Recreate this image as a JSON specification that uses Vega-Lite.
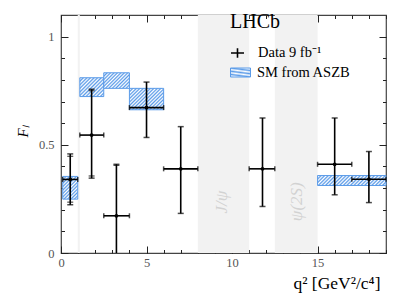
{
  "$schema": "https://vega.github.io/schema/vega-lite/v6.json",
  "width": 325,
  "height": 238,
  "autosize": "none",
  "padding": {"left": 61, "top": 15, "right": 21, "bottom": 52},
  "background": "white",
  "config": {
    "view": {"stroke": "#444", "strokeWidth": 1.2},
    "axis": {"grid": false, "domain": false, "labelFont": "Liberation Serif", "labelFontSize": 12.5, "labelColor": "#555", "titleFont": "Liberation Serif", "titleFontWeight": "normal", "titleColor": "black", "labelOverlap": false, "labelFlush": false}
  },
  "title": {"text": "LHCb", "anchor": "start", "frame": "group", "offset": 0, "dx": 169, "dy": 46, "baseline": "alphabetic", "font": "Liberation Serif", "fontSize": 20, "fontWeight": "normal", "color": "black"},
  "datasets": {
    "bands": [{"lo": 0.98, "hi": 1.1}, {"lo": 8, "hi": 11}, {"lo": 12.5, "hi": 15}],
    "sm": [
      {"lo": 0.1, "hi": 0.98, "Flo": 0.249, "Fhi": 0.354},
      {"lo": 1.1, "hi": 2.5, "Flo": 0.723, "Fhi": 0.81},
      {"lo": 2.5, "hi": 4.0, "Flo": 0.761, "Fhi": 0.833},
      {"lo": 4.0, "hi": 6.0, "Flo": 0.662, "Fhi": 0.761},
      {"lo": 15.0, "hi": 19.0, "Flo": 0.312, "Fhi": 0.358}
    ],
    "data": [
      {"lo": 0.1, "hi": 0.98, "xc": 0.54, "F": 0.34, "Flo": 0.223, "Fhi": 0.458, "Flo2": 0.235, "Fhi2": 0.447},
      {"lo": 1.1, "hi": 2.5, "xc": 1.79, "F": 0.545, "Flo": 0.346, "Fhi": 0.757, "Flo2": 0.356, "Fhi2": 0.75},
      {"lo": 2.5, "hi": 4.0, "xc": 3.24, "F": 0.172, "Flo": -0.05, "Fhi": 0.41, "Fhi2": 0.405},
      {"lo": 4.0, "hi": 6.0, "xc": 5.0, "F": 0.672, "Flo": 0.534, "Fhi": 0.79},
      {"lo": 6.0, "hi": 8.0, "xc": 7.0, "F": 0.389, "Flo": 0.183, "Fhi": 0.584},
      {"lo": 11.0, "hi": 12.5, "xc": 11.78, "F": 0.389, "Flo": 0.215, "Fhi": 0.624},
      {"lo": 15.0, "hi": 17.0, "xc": 16.0, "F": 0.41, "Flo": 0.269, "Fhi": 0.624},
      {"lo": 17.0, "hi": 19.0, "xc": 18.0, "F": 0.341, "Flo": 0.233, "Fhi": 0.469}
    ],
    "labels": [{"label": "J/ψ", "q2": 9.39, "F": 0.235}, {"label": "ψ(2S)", "q2": 13.78, "F": 0.237}]
  },
  "layer": [
    {
      "data": {"name": "bands"},
      "mark": {"type": "rect", "color": "#f2f2f2"},
      "encoding": {
        "x": {"field": "lo", "type": "quantitative", "scale": {"domain": [0, 19], "nice": false, "zero": false}, "axis": null},
        "x2": {"field": "hi"}
      }
    },
    {
      "data": {"name": "labels"},
      "mark": {"type": "text", "angle": 270, "font": "Liberation Serif", "fontStyle": "italic", "fontSize": 17, "color": "#d2d2d2"},
      "encoding": {
        "x": {"field": "q2", "type": "quantitative",
          "axis": {"orient": "bottom", "values": [0, 5, 10, 15], "ticks": false, "tickSize": 0, "domain": false, "labelPadding": 3, "title": "q² [GeV²/c⁴]", "titleFontSize": 17.5, "titleAlign": "right", "titleAnchor": "end", "titleX": 319, "titleY": 35, "titleBaseline": "alphabetic"}},
        "y": {"field": "F", "type": "quantitative", "scale": {"domain": [0, 1.1], "nice": false, "zero": false},
          "axis": {"orient": "left", "values": [0, 0.5, 1], "labelExpr": "datum.value === 0 ? '0' : datum.value === 1 ? '1' : '0.5'", "ticks": false, "tickSize": 0, "domain": false, "labelPadding": 7, "title": "Fₗ", "titleFontSize": 15, "titleFontStyle": "italic", "titleAngle": 270, "titleAlign": "center", "titleBaseline": "alphabetic", "titleX": -34, "titleY": 116}},
        "text": {"field": "label"}
      }
    },
    {
      "data": {"name": "sm"},
      "mark": {"type": "rect", "strokeWidth": 1},
      "encoding": {
        "x": {"field": "lo", "type": "quantitative", "scale": {"domain": [0, 19], "nice": false, "zero": false},
          "axis": {"orient": "bottom", "values": [0, 5, 10, 15], "labels": true, "labelExpr": "''", "labelPadding": 0, "title": null, "domain": false, "ticks": true, "tickColor": "#222", "tickWidth": 1, "tickOpacity": 1, "tickSize": 7, "offset": -7}},
        "x2": {"field": "hi"},
        "y": {"field": "Flo", "type": "quantitative", "scale": {"domain": [0, 1.1], "nice": false, "zero": false},
          "axis": {"orient": "left", "values": [0, 0.5, 1], "labels": true, "labelExpr": "''", "labelPadding": 0, "title": null, "domain": false, "ticks": true, "tickColor": "#222", "tickWidth": 1, "tickOpacity": 1, "tickSize": 7, "offset": -7}},
        "y2": {"field": "Fhi"},
        "stroke": {"datum": "SM from ASZB", "type": "nominal", "scale": {"domain": ["SM from ASZB"], "range": ["#5b9be8"]},
          "legend": {"orient": "none", "legendX": 169, "legendY": 47, "title": null, "symbolType": "M-1,-0.45H1V0.45H-1Z", "symbolSize": 400, "symbolStrokeWidth": 1, "labelFont": "Liberation Serif", "labelFontSize": 14.5, "labelColor": "black", "padding": 0, "labelOffset": 6,
            "encode": {"symbols": {"update": {
              "fill": [{"test": "datum.value === 'SM from ASZB'", "value": {"gradient": "linear", "x1": 0, "y1": 0, "x2": 1.206, "y2": 0.543, "stops": [{"offset":0,"color":"#5b9be8"},{"offset":0.0625,"color":"#ffffff"},{"offset":0.125,"color":"#5b9be8"},{"offset":0.1875,"color":"#ffffff"},{"offset":0.25,"color":"#5b9be8"},{"offset":0.3125,"color":"#ffffff"},{"offset":0.375,"color":"#5b9be8"},{"offset":0.4375,"color":"#ffffff"},{"offset":0.5,"color":"#5b9be8"},{"offset":0.5625,"color":"#ffffff"},{"offset":0.625,"color":"#5b9be8"},{"offset":0.6875,"color":"#ffffff"},{"offset":0.75,"color":"#5b9be8"},{"offset":0.8125,"color":"#ffffff"},{"offset":0.875,"color":"#5b9be8"},{"offset":0.9375,"color":"#ffffff"},{"offset":1,"color":"#5b9be8"}]}}, {"value": "transparent"}],
              "strokeWidth": {"value": 1},
              "size": {"value": 400}
            }}}}
        },
        "fill": {
          "condition": [
            {"test": "datum.lo === 0.1", "value": {"gradient": "linear", "x1": 0, "y1": 0, "x2": 0.764, "y2": 1.156, "stops": [{"offset":0,"color":"#5b9be8"},{"offset":0.0455,"color":"#ffffff"},{"offset":0.0909,"color":"#5b9be8"},{"offset":0.1364,"color":"#ffffff"},{"offset":0.1818,"color":"#5b9be8"},{"offset":0.2273,"color":"#ffffff"},{"offset":0.2727,"color":"#5b9be8"},{"offset":0.3182,"color":"#ffffff"},{"offset":0.3636,"color":"#5b9be8"},{"offset":0.4091,"color":"#ffffff"},{"offset":0.4545,"color":"#5b9be8"},{"offset":0.5,"color":"#ffffff"},{"offset":0.5455,"color":"#5b9be8"},{"offset":0.5909,"color":"#ffffff"},{"offset":0.6364,"color":"#5b9be8"},{"offset":0.6818,"color":"#ffffff"},{"offset":0.7273,"color":"#5b9be8"},{"offset":0.7727,"color":"#ffffff"},{"offset":0.8182,"color":"#5b9be8"},{"offset":0.8636,"color":"#ffffff"},{"offset":0.9091,"color":"#5b9be8"},{"offset":0.9545,"color":"#ffffff"},{"offset":1,"color":"#5b9be8"}]}},
            {"test": "datum.lo === 1.1", "value": {"gradient": "linear", "x1": 0, "y1": 0, "x2": 1.104, "y2": 0.868, "stops": [{"offset":0,"color":"#5b9be8"},{"offset":0.0417,"color":"#ffffff"},{"offset":0.0833,"color":"#5b9be8"},{"offset":0.125,"color":"#ffffff"},{"offset":0.1667,"color":"#5b9be8"},{"offset":0.2083,"color":"#ffffff"},{"offset":0.25,"color":"#5b9be8"},{"offset":0.2917,"color":"#ffffff"},{"offset":0.3333,"color":"#5b9be8"},{"offset":0.375,"color":"#ffffff"},{"offset":0.4167,"color":"#5b9be8"},{"offset":0.4583,"color":"#ffffff"},{"offset":0.5,"color":"#5b9be8"},{"offset":0.5417,"color":"#ffffff"},{"offset":0.5833,"color":"#5b9be8"},{"offset":0.625,"color":"#ffffff"},{"offset":0.6667,"color":"#5b9be8"},{"offset":0.7083,"color":"#ffffff"},{"offset":0.75,"color":"#5b9be8"},{"offset":0.7917,"color":"#ffffff"},{"offset":0.8333,"color":"#5b9be8"},{"offset":0.875,"color":"#ffffff"},{"offset":0.9167,"color":"#5b9be8"},{"offset":0.9583,"color":"#ffffff"},{"offset":1,"color":"#5b9be8"}]}},
            {"test": "datum.lo === 2.5", "value": {"gradient": "linear", "x1": 0, "y1": 0, "x2": 1.174, "y2": 0.713, "stops": [{"offset":0,"color":"#5b9be8"},{"offset":0.0417,"color":"#ffffff"},{"offset":0.0833,"color":"#5b9be8"},{"offset":0.125,"color":"#ffffff"},{"offset":0.1667,"color":"#5b9be8"},{"offset":0.2083,"color":"#ffffff"},{"offset":0.25,"color":"#5b9be8"},{"offset":0.2917,"color":"#ffffff"},{"offset":0.3333,"color":"#5b9be8"},{"offset":0.375,"color":"#ffffff"},{"offset":0.4167,"color":"#5b9be8"},{"offset":0.4583,"color":"#ffffff"},{"offset":0.5,"color":"#5b9be8"},{"offset":0.5417,"color":"#ffffff"},{"offset":0.5833,"color":"#5b9be8"},{"offset":0.625,"color":"#ffffff"},{"offset":0.6667,"color":"#5b9be8"},{"offset":0.7083,"color":"#ffffff"},{"offset":0.75,"color":"#5b9be8"},{"offset":0.7917,"color":"#ffffff"},{"offset":0.8333,"color":"#5b9be8"},{"offset":0.875,"color":"#ffffff"},{"offset":0.9167,"color":"#5b9be8"},{"offset":0.9583,"color":"#ffffff"},{"offset":1,"color":"#5b9be8"}]}},
            {"test": "datum.lo === 4", "value": {"gradient": "linear", "x1": 0, "y1": 0, "x2": 1.165, "y2": 0.739, "stops": [{"offset":0,"color":"#5b9be8"},{"offset":0.03125,"color":"#ffffff"},{"offset":0.0625,"color":"#5b9be8"},{"offset":0.09375,"color":"#ffffff"},{"offset":0.125,"color":"#5b9be8"},{"offset":0.15625,"color":"#ffffff"},{"offset":0.1875,"color":"#5b9be8"},{"offset":0.21875,"color":"#ffffff"},{"offset":0.25,"color":"#5b9be8"},{"offset":0.28125,"color":"#ffffff"},{"offset":0.3125,"color":"#5b9be8"},{"offset":0.34375,"color":"#ffffff"},{"offset":0.375,"color":"#5b9be8"},{"offset":0.40625,"color":"#ffffff"},{"offset":0.4375,"color":"#5b9be8"},{"offset":0.46875,"color":"#ffffff"},{"offset":0.5,"color":"#5b9be8"},{"offset":0.53125,"color":"#ffffff"},{"offset":0.5625,"color":"#5b9be8"},{"offset":0.59375,"color":"#ffffff"},{"offset":0.625,"color":"#5b9be8"},{"offset":0.65625,"color":"#ffffff"},{"offset":0.6875,"color":"#5b9be8"},{"offset":0.71875,"color":"#ffffff"},{"offset":0.75,"color":"#5b9be8"},{"offset":0.78125,"color":"#ffffff"},{"offset":0.8125,"color":"#5b9be8"},{"offset":0.84375,"color":"#ffffff"},{"offset":0.875,"color":"#5b9be8"},{"offset":0.90625,"color":"#ffffff"},{"offset":0.9375,"color":"#5b9be8"},{"offset":0.96875,"color":"#ffffff"},{"offset":1,"color":"#5b9be8"}]}}
          ],
          "value": {"gradient": "linear", "x1": 0, "y1": 0, "x2": 1.122, "y2": 0.164, "stops": [{"offset":0,"color":"#5b9be8"},{"offset":0.0227,"color":"#ffffff"},{"offset":0.0455,"color":"#5b9be8"},{"offset":0.0682,"color":"#ffffff"},{"offset":0.0909,"color":"#5b9be8"},{"offset":0.1136,"color":"#ffffff"},{"offset":0.1364,"color":"#5b9be8"},{"offset":0.1591,"color":"#ffffff"},{"offset":0.1818,"color":"#5b9be8"},{"offset":0.2045,"color":"#ffffff"},{"offset":0.2273,"color":"#5b9be8"},{"offset":0.25,"color":"#ffffff"},{"offset":0.2727,"color":"#5b9be8"},{"offset":0.2955,"color":"#ffffff"},{"offset":0.3182,"color":"#5b9be8"},{"offset":0.3409,"color":"#ffffff"},{"offset":0.3636,"color":"#5b9be8"},{"offset":0.3864,"color":"#ffffff"},{"offset":0.4091,"color":"#5b9be8"},{"offset":0.4318,"color":"#ffffff"},{"offset":0.4545,"color":"#5b9be8"},{"offset":0.4773,"color":"#ffffff"},{"offset":0.5,"color":"#5b9be8"},{"offset":0.5227,"color":"#ffffff"},{"offset":0.5455,"color":"#5b9be8"},{"offset":0.5682,"color":"#ffffff"},{"offset":0.5909,"color":"#5b9be8"},{"offset":0.6136,"color":"#ffffff"},{"offset":0.6364,"color":"#5b9be8"},{"offset":0.6591,"color":"#ffffff"},{"offset":0.6818,"color":"#5b9be8"},{"offset":0.7045,"color":"#ffffff"},{"offset":0.7273,"color":"#5b9be8"},{"offset":0.75,"color":"#ffffff"},{"offset":0.7727,"color":"#5b9be8"},{"offset":0.7955,"color":"#ffffff"},{"offset":0.8182,"color":"#5b9be8"},{"offset":0.8409,"color":"#ffffff"},{"offset":0.8636,"color":"#5b9be8"},{"offset":0.8864,"color":"#ffffff"},{"offset":0.9091,"color":"#5b9be8"},{"offset":0.9318,"color":"#ffffff"},{"offset":0.9545,"color":"#5b9be8"},{"offset":0.9773,"color":"#ffffff"},{"offset":1,"color":"#5b9be8"}]}
        }
      }
    },
    {
      "data": {"name": "data"},
      "mark": {"type": "rule", "strokeWidth": 1.6, "color": "black", "clip": true},
      "encoding": {
        "x": {"field": "xc", "type": "quantitative",
          "axis": {"orient": "top", "values": [0,1,2,3,4,5,6,7,8,9,10,11,12,13,14,15,16,17,18,19], "labels": true, "labelExpr": "''", "labelPadding": 0, "title": null, "domain": false, "ticks": true, "tickColor": "#222", "tickWidth": 1, "tickOpacity": 1, "tickSize": 3.5, "offset": -3.5}},
        "y": {"field": "Flo", "type": "quantitative",
          "axis": {"orient": "right", "values": [0,0.1,0.2,0.3,0.4,0.5,0.6,0.7,0.8,0.9,1.0], "labels": true, "labelExpr": "''", "labelPadding": 0, "title": null, "domain": false, "ticks": true, "tickColor": "#222", "tickWidth": 1, "tickOpacity": 1, "tickSize": 3.5, "offset": -3.5}},
        "y2": {"field": "Fhi"},
        "strokeDash": {"datum": "Data 9 fb⁻¹", "type": "nominal", "scale": {"domain": ["Data 9 fb⁻¹"], "range": [[1, 0]]},
          "legend": {"orient": "none", "legendX": 169, "legendY": 27, "title": null, "symbolType": "M-1,0H0.3M-0.35,-0.48V0.48", "symbolSize": 400, "symbolStrokeWidth": 1.6, "symbolStrokeColor": "black", "symbolFillColor": "transparent", "labelFont": "Liberation Serif", "labelFontSize": 14.5, "labelColor": "black", "padding": 0, "labelOffset": 6}}
      }
    },
    {
      "data": {"name": "data"},
      "mark": {"type": "rule", "strokeWidth": 1.6, "color": "black"},
      "encoding": {
        "x": {"field": "lo", "type": "quantitative",
          "axis": {"orient": "top", "values": [0, 5, 10, 15], "labels": true, "labelExpr": "''", "labelPadding": 0, "title": null, "domain": false, "ticks": true, "tickColor": "#222", "tickWidth": 1, "tickOpacity": 1, "tickSize": 7, "offset": -7}},
        "x2": {"field": "hi"},
        "y": {"field": "F", "type": "quantitative",
          "axis": {"orient": "right", "values": [0, 0.5, 1], "labels": true, "labelExpr": "''", "labelPadding": 0, "title": null, "domain": false, "ticks": true, "tickColor": "#222", "tickWidth": 1, "tickOpacity": 1, "tickSize": 7, "offset": -7}}
      }
    },
    {
      "data": {"name": "data"},
      "mark": {"type": "tick", "orient": "horizontal", "size": 6, "thickness": 1.5, "color": "black", "clip": true},
      "encoding": {"x": {"field": "xc", "type": "quantitative", "axis": null}, "y": {"field": "Fhi", "type": "quantitative", "axis": null}}
    },
    {
      "data": {"name": "data"},
      "mark": {"type": "tick", "orient": "horizontal", "size": 6, "thickness": 1.5, "color": "black", "clip": true},
      "encoding": {"x": {"field": "xc", "type": "quantitative", "axis": null}, "y": {"field": "Flo", "type": "quantitative", "axis": null}}
    },
    {
      "data": {"name": "data"},
      "mark": {"type": "tick", "orient": "horizontal", "size": 6, "thickness": 1.2, "color": "black", "clip": true},
      "encoding": {"x": {"field": "xc", "type": "quantitative", "axis": null}, "y": {"field": "Fhi2", "type": "quantitative", "axis": null}}
    },
    {
      "data": {"name": "data"},
      "mark": {"type": "tick", "orient": "horizontal", "size": 6, "thickness": 1.2, "color": "black", "clip": true},
      "encoding": {"x": {"field": "xc", "type": "quantitative", "axis": null}, "y": {"field": "Flo2", "type": "quantitative", "axis": null}}
    },
    {
      "data": {"name": "data"},
      "mark": {"type": "tick", "orient": "vertical", "size": 5, "thickness": 1.5, "color": "black"},
      "encoding": {"x": {"field": "lo", "type": "quantitative", "axis": null}, "y": {"field": "F", "type": "quantitative", "axis": null}}
    },
    {
      "data": {"name": "data"},
      "mark": {"type": "tick", "orient": "vertical", "size": 5, "thickness": 1.5, "color": "black"},
      "encoding": {"x": {"field": "hi", "type": "quantitative", "axis": null}, "y": {"field": "F", "type": "quantitative", "axis": null}}
    },
    {
      "data": {"name": "data"},
      "mark": {"type": "point", "filled": true, "size": 14, "color": "black", "opacity": 1},
      "encoding": {
        "x": {"field": "xc", "type": "quantitative",
          "axis": {"orient": "bottom", "values": [0,1,2,3,4,5,6,7,8,9,10,11,12,13,14,15,16,17,18,19], "labels": true, "labelExpr": "''", "labelPadding": 0, "title": null, "domain": false, "ticks": true, "tickColor": "#222", "tickWidth": 1, "tickOpacity": 1, "tickSize": 3.5, "offset": -3.5}},
        "y": {"field": "F", "type": "quantitative",
          "axis": {"orient": "left", "values": [0,0.1,0.2,0.3,0.4,0.5,0.6,0.7,0.8,0.9,1.0], "labels": true, "labelExpr": "''", "labelPadding": 0, "title": null, "domain": false, "ticks": true, "tickColor": "#222", "tickWidth": 1, "tickOpacity": 1, "tickSize": 3.5, "offset": -3.5}}
      }
    }
  ],
  "resolve": {"axis": {"x": "independent", "y": "independent"}}
}
